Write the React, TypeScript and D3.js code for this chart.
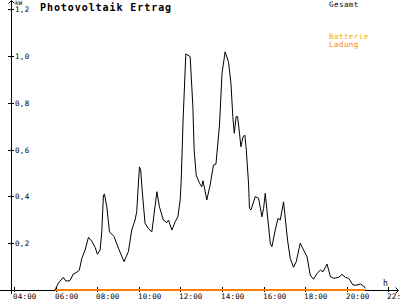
import React from "react";
import * as d3 from "d3";

const pvHours = [
  5.97, 6.01, 6.13, 6.37, 6.5, 6.69, 6.85, 7.02, 7.14, 7.26, 7.42, 7.58, 7.74, 7.9, 8.01, 8.14, 8.22, 8.3, 8.35, 8.46,
  8.59, 8.81, 9.02, 9.29, 9.5, 9.66, 9.82, 9.9, 10.03, 10.09, 10.18, 10.3, 10.47, 10.63, 10.74, 10.87, 10.99, 11.18,
  11.35, 11.43, 11.59, 11.75, 11.88, 11.99, 12.04, 12.13, 12.26, 12.47, 12.6, 12.66, 12.76, 12.92, 13.03, 13.08,
  13.16, 13.27, 13.43, 13.59, 13.71, 13.88, 14.0, 14.15, 14.31, 14.43, 14.52, 14.59, 14.68, 14.75, 14.84, 14.91,
  15.01, 15.1, 15.17, 15.28, 15.32, 15.39, 15.6, 15.76, 15.92, 16.0, 16.08, 16.32, 16.4, 16.56, 16.69, 16.8, 16.96,
  17.15, 17.28, 17.44, 17.57, 17.76, 17.92, 18.09, 18.24, 18.4, 18.57, 18.73, 18.86, 19.05, 19.21, 19.37, 19.61,
  19.77, 19.93, 20.09, 20.3, 20.49, 20.65, 20.81, 20.89,
];
const pvKw = [
  0, 0.007, 0.029, 0.054, 0.038, 0.04, 0.068, 0.076, 0.085, 0.135, 0.171, 0.225, 0.209, 0.182, 0.153, 0.171, 0.249,
  0.406, 0.41, 0.356, 0.249, 0.228, 0.179, 0.121, 0.164, 0.256, 0.299, 0.335, 0.526, 0.513, 0.406, 0.286, 0.261,
  0.249, 0.329, 0.42, 0.356, 0.299, 0.288, 0.299, 0.256, 0.292, 0.313, 0.385, 0.47, 0.726, 1.009, 0.997, 0.783,
  0.598, 0.491, 0.456, 0.441, 0.467, 0.435, 0.385, 0.449, 0.534, 0.538, 0.705, 0.926, 1.018, 0.976, 0.883, 0.741,
  0.67, 0.741, 0.741, 0.67, 0.612, 0.655, 0.662, 0.598, 0.449, 0.349, 0.342, 0.399, 0.392, 0.313, 0.349, 0.413,
  0.2, 0.185, 0.256, 0.306, 0.299, 0.377, 0.214, 0.135, 0.097, 0.121, 0.2, 0.171, 0.142, 0.064, 0.046, 0.071, 0.085,
  0.078, 0.111, 0.057, 0.05, 0.054, 0.067, 0.054, 0.05, 0.021, 0.021, 0.026, 0.017, 0.007,
];
const ladungHours = [5.97, 20.89];
const ladungKw = [0, 0];

const xTickHours = [4, 6, 8, 10, 12, 14, 16, 18, 20, 22];
const xTickLabels = ["04:00", "06:00", "08:00", "10:00", "12:00", "14:00", "16:00", "18:00", "20:00", "22:00"];
const yTickValues = [0.2, 0.4, 0.6, 0.8, 1.0, 1.2];
const yTickLabels = ["0,2", "0,4", "0,6", "0,8", "1,0", "1,2"];

const title = "Photovoltaik Ertrag";
const legendLabels = ["Gesamt", "Batterie", "Ladung"];
const legendColors = ["#000000", "#f8ac00", "#ff8000"];
const yUnit = "kW";
const xUnit = "h";

const FONT = "'DejaVu Sans Mono', monospace";

export default function App() {
  const x = d3.scaleLinear().domain([4, 22]).range([14, 388.4]);
  const y = d3.scaleLinear().domain([0, 1.2]).range([290, 9.2]);
  const axisX = 11.5;
  const baseY = 290.5;

  const pvData = pvHours.map((h, i) => [h, pvKw[i]] as [number, number]);
  const ladData = ladungHours.map((h, i) => [h, ladungKw[i]] as [number, number]);
  const line = d3
    .line<[number, number]>()
    .x((d) => x(d[0]))
    .y((d) => y(d[1]));

  return (
    <svg
      width={400}
      height={300}
      style={{ position: "fixed", left: 0, top: 0, background: "#fff", display: "block" }}
    >
      <rect x={0} y={0} width={400} height={300} fill="#fff" />
      {/* x axis baseline */}
      <line x1={0} x2={398} y1={baseY} y2={baseY} stroke="#000" strokeWidth={1} shapeRendering="crispEdges" />
      <path d={`M395.5,287.5 L398.5,290.5 L395.5,293.5`} fill="none" stroke="#000" strokeWidth={1} />
      {/* y axis */}
      <line x1={axisX} x2={axisX} y1={0.5} y2={294} stroke="#000" strokeWidth={1} shapeRendering="crispEdges" />
      <path d={`M8.5,3.5 L11.5,0.5 L14.5,3.5`} fill="none" stroke="#000" strokeWidth={1} />

      {/* x ticks */}
      {xTickHours.map((h, i) => {
        const px = Math.round(x(h)) + 0.5;
        return (
          <g key={"xt" + i}>
            <line x1={px} x2={px} y1={287} y2={292} stroke="#000" strokeWidth={1} shapeRendering="crispEdges" />
            <text x={px - 1.5} y={299} fontFamily={FONT} fontSize={7.5} letterSpacing={0.2} fill="#000">
              {xTickLabels[i]}
            </text>
          </g>
        );
      })}
      <text x={383} y={286} fontFamily={FONT} fontSize={8} fill="#000">
        {xUnit}
      </text>

      {/* y ticks */}
      {yTickValues.map((v, i) => {
        const py = Math.round(y(v)) + 0.5;
        return (
          <g key={"yt" + i}>
            <line x1={8} x2={14} y1={py} y2={py} stroke="#000" strokeWidth={1} shapeRendering="crispEdges" />
            <text x={15} y={py + 2.8} fontFamily={FONT} fontSize={7.5} letterSpacing={0.3} fill="#000">
              {yTickLabels[i]}
            </text>
          </g>
        );
      })}
      <text x={15} y={5} fontFamily={FONT} fontSize={6} fill="#000">
        {yUnit}
      </text>

      {/* title */}
      <text x={40} y={11} fontFamily={FONT} fontSize={10} fontWeight="bold" letterSpacing={0.93} fill="#000">
        {title}
      </text>

      {/* legend */}
      <text x={329} y={7} fontFamily={FONT} fontSize={7.5} letterSpacing={0.45} fill={legendColors[0]}>
        {legendLabels[0]}
      </text>
      <text x={329} y={38.5} fontFamily={FONT} fontSize={7.5} letterSpacing={0.45} fill={legendColors[1]}>
        {legendLabels[1]}
      </text>
      <text x={329} y={46.5} fontFamily={FONT} fontSize={7.5} letterSpacing={0.45} fill={legendColors[2]}>
        {legendLabels[2]}
      </text>

      {/* data */}
      <path d={line(ladData) || ""} fill="none" stroke={legendColors[2]} strokeWidth={2} shapeRendering="crispEdges" />
      <path d={line(pvData) || ""} fill="none" stroke="#000" strokeWidth={1} strokeLinejoin="round" />
    </svg>
  );
}
